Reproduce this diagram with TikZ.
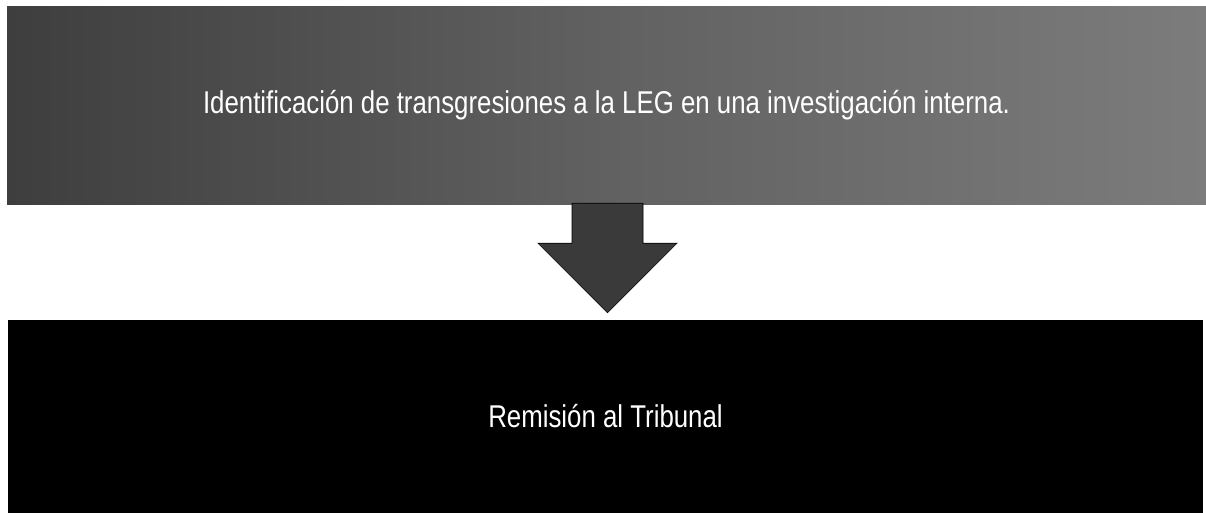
\documentclass[tikz,border=0pt]{standalone}
\usepackage{fontspec}
\usepackage{graphicx}
\setmainfont{Liberation Sans}
\usetikzlibrary{calc}
\definecolor{boxdark}{HTML}{3E3E3E}
\definecolor{boxlight}{HTML}{7C7C7C}
\definecolor{arrowgray}{HTML}{3A3A3A}
\tikzset{
  boxtext/.style={font=\fontsize{31.5}{36}\selectfont, text=white, inner sep=0pt},
  topbox/.style={boxtext, minimum width=1199pt, minimum height=197pt, left color=boxdark, right color=boxlight, middle color=black!62},
  botbox/.style={boxtext, minimum width=1195pt, minimum height=193pt, fill=black},
  blockarrow/.style={fill=arrowgray, draw=black, line width=0.6pt}
}
\newcommand{\narrowtxt}[1]{\scalebox{0.82}[1]{#1}}
\begin{document}
\begin{tikzpicture}[x=1pt,y=-1pt]
\useasboundingbox (0,0) rectangle (1206,513);
\node[topbox] (top) at (606.5,105.5) {\narrowtxt{Identificación de transgresiones a la LEG en una investigación interna.}};
\node[botbox] (bot) at (605.5,416.5) {\narrowtxt{Remisión al Tribunal}};
\coordinate (s) at ($(top.south)+(1,0)$);
\coordinate (t) at ($(bot.north)+(2,-7)$);
\draw[blockarrow] ($(s)+(-35.5,-1)$) -- ($(s)+(35.5,-1)$) -- ($(s)+(35.5,39)$) -- ($(s)+(69.5,39)$) -- (t) -- ($(s)+(-69.5,39)$) -- ($(s)+(-35.5,39)$) -- cycle;
\end{tikzpicture}
\end{document}
